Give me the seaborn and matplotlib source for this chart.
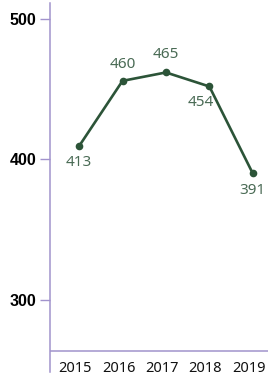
import pandas as pd
import seaborn as sns
import matplotlib.pyplot as plt
from matplotlib.transforms import ScaledTranslation

# data
years = [2015, 2016, 2017, 2018, 2019]
scores = [409.5, 456, 462, 452, 390]          # plotted positions
labels = ["413", "460", "465", "454", "391"]  # printed labels
yticks = [300, 400, 500]

df = pd.DataFrame({"year": years, "score": scores})

line_col = "#2c5438"
text_col = "#4a6b55"
axis_col = "#a193cc"

sns.set_style("white")
plt.rcParams["font.family"] = ["Noto Sans", "DejaVu Sans"]

fig = plt.figure(figsize=(2.68, 3.76), dpi=100)
ax = fig.add_axes([50 / 268, 4 / 376, 218 / 268, 369 / 376])

sns.lineplot(data=df, x="year", y="score", ax=ax, color=line_col,
             linewidth=1.9, marker="o", markersize=5.5,
             markeredgecolor=line_col, markeredgewidth=0)

# label offsets in points (above / below the point)
offsets = [(0, -12), (0, 11.5), (0, 13), (-6.5, -11.5), (0, -12)]
for x, y, lab, off in zip(years, scores, labels, offsets):
    ax.annotate(lab, (x, y), xytext=off, textcoords="offset points",
                ha="center", va="center", fontsize=11, color=text_col)

ax.set_xlim(2014.33, 2019.35)
ax.set_ylim(248.5, 511.5)
ax.axhline(263.5, color=axis_col, linewidth=1.1)

ax.set_xticks(years)
ax.set_xticklabels([str(y) for y in years])
ax.set_yticks(yticks)
ax.set_yticklabels([str(t) for t in yticks],
                   fontdict={"family": "Liberation Sans", "weight": "bold",
                             "size": 11.5, "color": "#000000"})

ax.tick_params(axis="x", length=0, pad=-8, labelsize=10.5, labelcolor="#111111")
ax.tick_params(axis="y", length=7, width=1, color=axis_col, pad=3, left=True)

# year labels sit a little left of the points
shift = ScaledTranslation(-4 / 100, 0, fig.dpi_scale_trans)
for t in ax.get_xticklabels():
    t.set_transform(t.get_transform() + shift)

sns.despine(ax=ax, top=True, right=True, bottom=True)
ax.spines["left"].set_color(axis_col)
ax.spines["left"].set_linewidth(1.1)
ax.set_xlabel("")
ax.set_ylabel("")
ax.patch.set_alpha(0)

fig.savefig("out.png", dpi=100)
